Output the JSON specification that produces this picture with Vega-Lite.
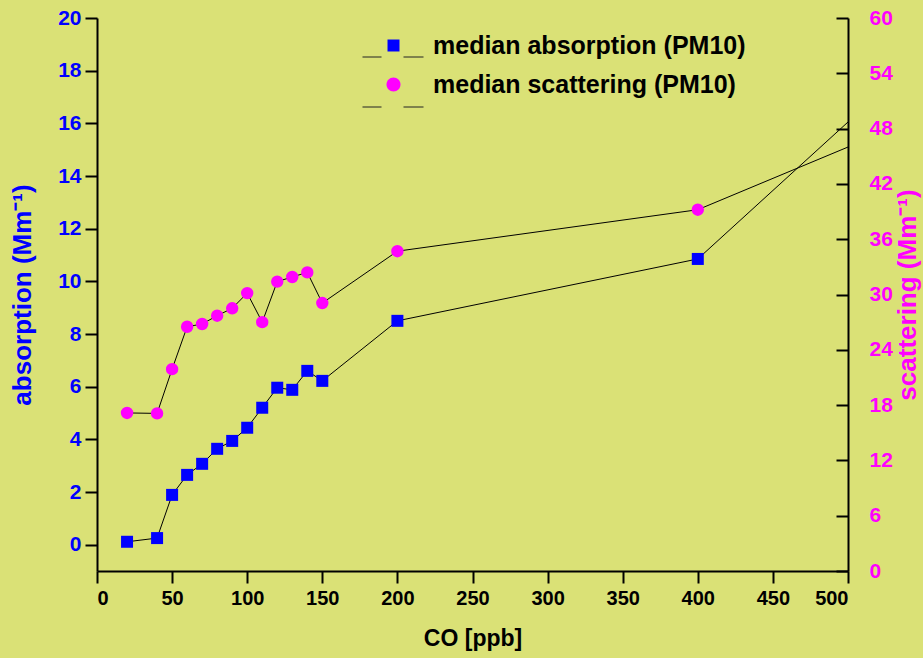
{
  "$schema": "https://vega.github.io/schema/vega-lite/v6.json",
  "width": 751,
  "height": 553,
  "autosize": {"type": "none"},
  "padding": {"left": 97, "top": 18, "right": 75, "bottom": 87},
  "background": "#dae176",
  "config": {
    "view": {"stroke": null},
    "font": "Liberation Sans",
    "axis": {
      "grid": false,
      "domainColor": "black",
      "domainWidth": 2,
      "tickColor": "black",
      "tickWidth": 2,
      "tickSize": 12,
      "labelFontWeight": "bold",
      "titleFontWeight": "bold",
      "labelFont": "Liberation Sans",
      "titleFont": "Liberation Sans"
    }
  },
  "data": {
    "values": [
      {"co": 20, "absorption": 0.11, "scattering": 17.15},
      {"co": 40, "absorption": 0.25, "scattering": 17.1},
      {"co": 50, "absorption": 1.89, "scattering": 21.9},
      {"co": 60, "absorption": 2.65, "scattering": 26.5},
      {"co": 70, "absorption": 3.07, "scattering": 26.8},
      {"co": 80, "absorption": 3.64, "scattering": 27.7},
      {"co": 90, "absorption": 3.94, "scattering": 28.5},
      {"co": 100, "absorption": 4.44, "scattering": 30.15},
      {"co": 110, "absorption": 5.2, "scattering": 27.0},
      {"co": 120, "absorption": 5.96, "scattering": 31.4},
      {"co": 130, "absorption": 5.88, "scattering": 31.9},
      {"co": 140, "absorption": 6.6, "scattering": 32.4},
      {"co": 150, "absorption": 6.22, "scattering": 29.07},
      {"co": 200, "absorption": 8.5, "scattering": 34.7},
      {"co": 400, "absorption": 10.85, "scattering": 39.2},
      {"co": 500, "absorption": 16.05, "scattering": 46.0}
    ]
  },
  "encoding": {
    "x": {
      "field": "co",
      "type": "quantitative",
      "scale": {"domain": [0, 500], "nice": false},
      "axis": {
        "values": [0, 50, 100, 150, 200, 250, 300, 350, 400, 450, 500],
        "title": "CO [ppb]",
        "labelFontSize": 20,
        "labelColor": "black",
        "labelPadding": 5,
        "titleFontSize": 23,
        "titleColor": "black",
        "titlePadding": 19
      }
    }
  },
  "layer": [
    {
      "encoding": {
        "y": {
          "field": "absorption",
          "type": "quantitative",
          "scale": {"domain": [-1, 20], "nice": false, "zero": false},
          "axis": {
            "orient": "left",
            "values": [0, 2, 4, 6, 8, 10, 12, 14, 16, 18, 20],
            "title": "absorption (Mm⁻¹)",
            "labelColor": "#0000ff",
            "labelFontSize": 21,
            "labelPadding": 4,
            "titleColor": "#0000ff",
            "titleFontSize": 26,
            "titlePadding": 22
          }
        }
      },
      "layer": [
        {"mark": {"type": "line", "color": "black", "strokeWidth": 1}, "encoding": {}},
        {
          "transform": [{"filter": "datum.co < 500"}],
          "mark": {"type": "point", "shape": "square", "filled": true, "size": 144, "opacity": 1, "color": "#0000ff"},
          "encoding": {}
        }
      ]
    },
    {
      "encoding": {
        "y": {
          "field": "scattering",
          "type": "quantitative",
          "scale": {"domain": [0, 60], "nice": false, "zero": false},
          "axis": {
            "orient": "right",
            "values": [0, 6, 12, 18, 24, 30, 36, 42, 48, 54, 60],
            "title": "scattering (Mm⁻¹)",
            "tickSize": -12,
            "labelColor": "#ff00ff",
            "labelFontSize": 21,
            "labelPadding": 33,
            "titleColor": "#ff00ff",
            "titleFontSize": 26,
            "titleAngle": 270,
            "titleBaseline": "top",
            "titlePadding": 2
          }
        }
      },
      "layer": [
        {"mark": {"type": "line", "color": "black", "strokeWidth": 1}, "encoding": {}},
        {
          "transform": [{"filter": "datum.co < 500"}],
          "mark": {"type": "point", "shape": "circle", "filled": true, "size": 154, "opacity": 1, "color": "#ff00ff"},
          "encoding": {}
        }
      ]
    },
    {
      "transform": [
        {"fold": ["absorption", "scattering"], "as": ["line", "v"]},
        {"filter": "false"}
      ],
      "mark": {"type": "line", "color": "#222222", "strokeWidth": 1},
      "encoding": {
        "strokeDash": {
          "field": "line",
          "type": "nominal",
          "scale": {"domain": ["scattering", "absorption"], "range": [[19, 22, 20], [19, 22, 20]]},
          "legend": {
            "orient": "none",
            "legendX": 265,
            "legendY": 8,
            "title": null,
            "padding": 0,
            "symbolSize": 3721,
            "symbolStrokeWidth": 1,
            "symbolStrokeColor": "#222222",
            "labelOpacity": 0,
            "labelFont": "Liberation Sans",
            "labelFontSize": 25,
            "labelFontWeight": "bold",
            "labelOffset": 8,
            "labelLimit": 0,
            "rowPadding": 6
          }
        }
      }
    },
    {
      "transform": [
        {"fold": ["absorption", "scattering"], "as": ["series", "val"]},
        {"filter": "false"}
      ],
      "mark": {"type": "point", "filled": true, "opacity": 1},
      "encoding": {
        "color": {
          "field": "series",
          "type": "nominal",
          "scale": {"domain": ["absorption", "scattering"], "range": ["#0000ff", "#ff00ff"]},
          "legend": {
            "orient": "none",
            "legendX": 277,
            "legendY": 8,
            "title": null,
            "padding": 0,
            "symbolSize": 1369,
            "symbolOpacity": 1,
            "labelExpr": "'median ' + datum.label + ' (PM10)'",
            "labelFont": "Liberation Sans",
            "labelFontSize": 25,
            "labelFontWeight": "bold",
            "labelColor": "black",
            "labelOffset": 20,
            "labelLimit": 0,
            "rowPadding": 6
          }
        },
        "shape": {
          "field": "series",
          "type": "nominal",
          "scale": {
            "domain": ["absorption", "scattering"],
            "range": [
              "M-0.324,-0.324H0.324V0.324H-0.324Z",
              "M0.378,0A0.378,0.378,0,1,1,-0.378,0A0.378,0.378,0,1,1,0.378,0Z"
            ]
          },
          "legend": {
            "orient": "none",
            "legendX": 277,
            "legendY": 8,
            "title": null,
            "padding": 0,
            "symbolSize": 1369,
            "symbolOpacity": 1,
            "labelExpr": "'median ' + datum.label + ' (PM10)'",
            "labelFont": "Liberation Sans",
            "labelFontSize": 25,
            "labelFontWeight": "bold",
            "labelColor": "black",
            "labelOffset": 20,
            "labelLimit": 0,
            "rowPadding": 6
          }
        }
      }
    }
  ],
  "resolve": {"scale": {"y": "independent"}}
}
